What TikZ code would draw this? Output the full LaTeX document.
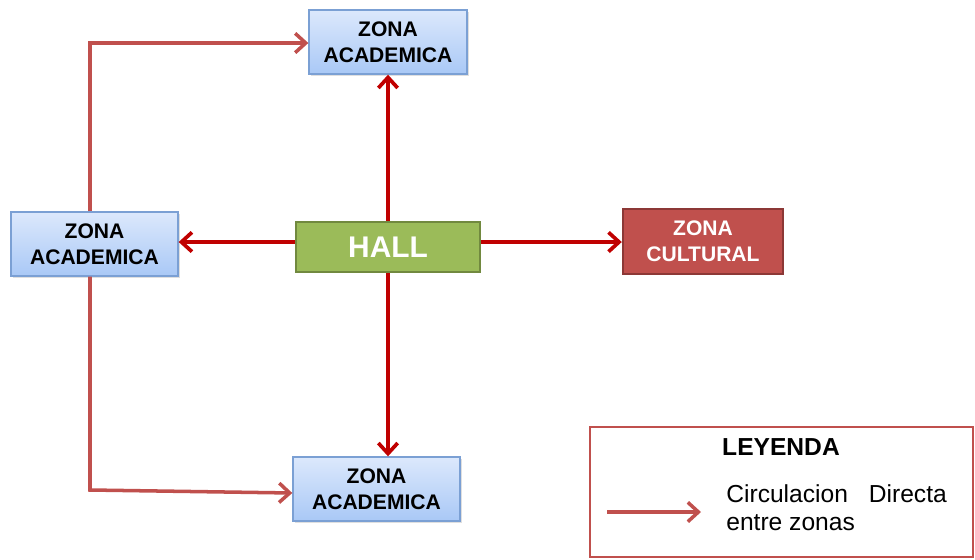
\documentclass[tikz,border=0pt]{standalone}
\usepackage{fontspec}
\setmainfont{Liberation Sans}
\usetikzlibrary{arrows.meta,shadows}

\definecolor{flujo}{HTML}{C00000}
\definecolor{enlace}{HTML}{C0504D}
\definecolor{bordeazul}{HTML}{7BA0D4}
\definecolor{azulclaro}{HTML}{DCE8FC}
\definecolor{azulfondo}{HTML}{A9C8F6}
\definecolor{verdehall}{HTML}{9BBB59}
\definecolor{bordeverde}{HTML}{71893F}
\definecolor{bordecultural}{HTML}{8C3836}

\tikzset{
  zona/.style={draw=bordeazul, line width=0.8pt, top color=azulclaro,
    bottom color=azulfondo, drop shadow={opacity=0.25, shadow xshift=1pt, shadow yshift=-1pt},
    align=center, inner sep=0pt, font=\fontsize{12}{15}\selectfont\bfseries},
  flecha/.style={draw=flujo, line width=2.1pt, -{Straight Barb[length=6pt, width=11pt]}},
  enlace/.style={draw=enlace, line width=2pt, -{Straight Barb[length=6pt, width=11pt]}},
}

\begin{document}
\begin{tikzpicture}[x=0.02cm, y=-0.02cm]
		\useasboundingbox (0, 0) rectangle (975, 559);
		% zonas
		\node[zona, minimum width=3.16cm, minimum height=1.28cm] (arriba) at (388, 42) {ZONA\\ACADEMICA};
		\node[zona, minimum width=3.34cm, minimum height=1.28cm] (izq) at (94.5, 244) {ZONA\\ACADEMICA};
		\node[zona, minimum width=3.34cm, minimum height=1.28cm] (abajo) at (376.5, 489) {ZONA\\ACADEMICA};
		\node[draw=bordeverde, fill=verdehall, line width=1.4pt, minimum width=3.68cm, minimum height=1cm,
			inner sep=0pt, text=white, font=\fontsize{17}{20}\selectfont\bfseries] (hall) at (388, 247) {HALL};
		\node[draw=bordecultural, fill=enlace, line width=1.4pt, minimum width=3.2cm, minimum height=1.3cm,
			inner sep=0pt, align=center, text=white, font=\fontsize{12}{15}\selectfont\bfseries] (cultural) at (703, 241.5) {ZONA\\CULTURAL};
		% circulacion desde el hall
		\draw[flecha] (hall.north) -- (arriba.south);
		\draw[flecha] (hall.south) -- (abajo.north -| hall.south);
		\draw[flecha] (hall.west |- 0, 242) -- (izq.east |- 0, 242);
		\draw[flecha] (hall.east |- 0, 242) -- (cultural.west |- 0, 242);
		% circulacion directa entre zonas
		\draw[enlace] (izq.north -| 90, 0) |- (arriba.west |- 0, 43);
		\draw[enlace] (izq.south -| 90, 0) -- (90, 490) -- (abajo.west |- 0, 493);
		% leyenda
		\node[draw=enlace, line width=1.4pt, minimum width=7.66cm, minimum height=2.6cm, inner sep=0pt] (leyenda) at (781.5, 492) {};
		\node[font=\fontsize{14}{16}\selectfont\bfseries] (titulo) at (781, 447) {LEYENDA};
		\node[anchor=west, align=left, inner sep=0pt, font=\fontsize{14}{16}\selectfont] (texto) at (726, 508)
			{Circulacion\hspace{0.85em}Directa\\entre zonas};
		\coordinate (ini) at (607, 512);
		\coordinate (fin) at (701, 512);
		\draw[enlace] (ini) -- (fin);
	\end{tikzpicture}
\end{document}
